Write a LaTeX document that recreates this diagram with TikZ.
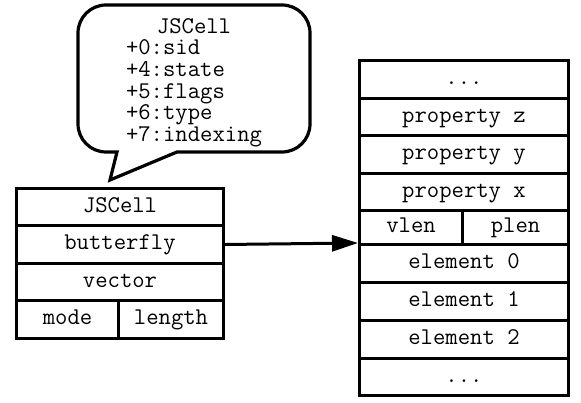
\documentclass[tikz,border=0pt]{standalone}
\usetikzlibrary{arrows.meta}
\begin{document}
\begin{tikzpicture}[x=1pt,y=1pt,
  txt/.style={font=\ttfamily\fontsize{24}{21.6}\selectfont, text=black},
  cell/.style={txt, draw, line width=3pt, inner sep=0pt, anchor=north west,
    text height=14.9pt, text depth=4.8pt},
  bubble/.style={draw, line width=3.2pt, line join=miter, fill=white}]
\useasboundingbox (0,0) rectangle (581,403);
% speech bubble
\draw[bubble] (177,251) -- (282,251) arc[start angle=-90,end angle=0,radius=28]
  -- (310,370) arc[start angle=0,end angle=90,radius=28]
  -- (106,398) arc[start angle=90,end angle=180,radius=28]
  -- (78,279) arc[start angle=180,end angle=270,radius=28]
  -- (117,251) -- (110,223) -- cycle;
\node[txt, inner sep=0pt] (bubbletext) at (194,320)
  {\begin{tabular}{@{}l@{}}\multicolumn{1}{@{}c@{}}{JSCell}\\ +0:sid\\ +4:state\\ +5:flags\\ +6:type\\ +7:indexing\end{tabular}};
% left structure
\node[cell, minimum width=207pt, minimum height=37pt] (jscell) at (15,216) {JSCell};
\node[cell, minimum width=207pt, minimum height=38pt] (butterfly) at (15,179) {butterfly};
\node[cell, minimum width=207pt, minimum height=37pt] (vector) at (15,141) {vector};
\node[cell, minimum width=102pt, minimum height=38pt] (mode) at (15,104) {mode};
\node[cell, minimum width=105pt, minimum height=38pt] (length) at (117,104) {length};
% right structure
\node[cell, minimum width=209pt, minimum height=38pt] (dotstop) at (358,344) {...};
\node[cell, minimum width=209pt, minimum height=37pt] (propz) at (358,306) {property z};
\node[cell, minimum width=209pt, minimum height=38pt] (propy) at (358,269) {property y};
\node[cell, minimum width=209pt, minimum height=37pt] (propx) at (358,231) {property x};
\node[cell, minimum width=103pt, minimum height=34pt] (vlen) at (358,194) {vlen};
\node[cell, minimum width=106pt, minimum height=34pt] (plen) at (461,194) {plen};
\node[cell, minimum width=209pt, minimum height=38pt] (elem0) at (358,160) {element 0};
\node[cell, minimum width=209pt, minimum height=38pt] (elem1) at (358,122) {element 1};
\node[cell, minimum width=209pt, minimum height=38pt] (elem2) at (358,84) {element 2};
\node[cell, minimum width=209pt, minimum height=37pt] (dotsbot) at (358,46) {...};
% pointer
\draw[line width=3pt, -{Triangle[length=26pt,width=16pt]}] (butterfly.east) -- (elem0.north west);
\end{tikzpicture}
\end{document}
